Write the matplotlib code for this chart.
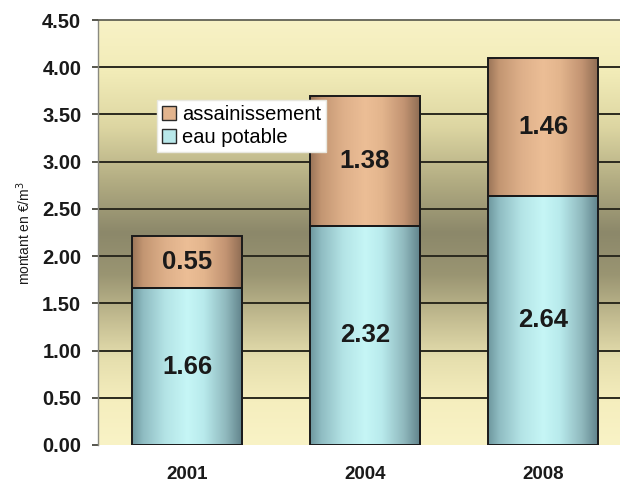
import numpy as np
import matplotlib
matplotlib.use("Agg")
import matplotlib.pyplot as plt
from matplotlib.colors import LinearSegmentedColormap
from matplotlib.patches import Patch

plt.rcParams['font.family'] = ['Liberation Sans', 'DejaVu Sans']

# Data
years = ["2001", "2004", "2008"]
eau_potable = [1.66, 2.32, 2.64]
assainissement = [0.55, 1.38, 1.46]
yticks = [0.0, 0.5, 1.0, 1.5, 2.0, 2.5, 3.0, 3.5, 4.0, 4.5]

W, H = 620, 482
fig = plt.figure(figsize=(W / 100, H / 100), dpi=100)
fig.patch.set_facecolor("white")
ax = fig.add_axes([98 / W, (H - 445) / H, 534 / W, 425 / H])

x = np.arange(len(years))
bw = 0.618

# Background: pale yellow at top and bottom, olive band in the middle
bg_cmap = LinearSegmentedColormap.from_list("bg", [
    (0.00, "#f8f2c6"),
    (0.12, "#f2ecb8"),
    (0.25, "#ddd6a2"),
    (0.38, "#b2ac82"),
    (0.50, "#8c886a"),
    (0.60, "#9a9572"),
    (0.70, "#c2bb90"),
    (0.80, "#e6dfae"),
    (0.90, "#f5eebe"),
    (1.00, "#f9f3c6"),
])
bg = np.linspace(0, 1, 256).reshape(-1, 1)
ax.imshow(bg, cmap=bg_cmap, aspect="auto", extent=[-0.5, 2.57, 0, 4.5],
          origin="upper", zorder=0, interpolation="bicubic")

# Gridlines
for yv in yticks[1:-1]:
    ax.axhline(yv, color="#2b2a1e", lw=1.4, zorder=1)

# Cylinder-like horizontal shading for the bars
cyan_cmap = LinearSegmentedColormap.from_list("cyan", [
    (0.00, "#6e979e"), (0.10, "#8fbcc2"), (0.30, "#b4e4e6"),
    (0.50, "#c6f6f6"), (0.65, "#b8eaec"), (0.85, "#8fb8bd"),
    (1.00, "#5f8189"),
])
orange_cmap = LinearSegmentedColormap.from_list("orange", [
    (0.00, "#9a7558"), (0.10, "#c39672"), (0.30, "#deb08a"),
    (0.50, "#ecbe96"), (0.65, "#e3b58d"), (0.85, "#c29372"),
    (1.00, "#8c6b52"),
])
hgrad = np.linspace(0, 1, 256).reshape(1, -1)

b1 = ax.bar(x, eau_potable, bw, facecolor="none", edgecolor="#1a1a1a",
            lw=1.4, zorder=3)
b2 = ax.bar(x, assainissement, bw, bottom=eau_potable, facecolor="none",
            edgecolor="#1a1a1a", lw=1.4, zorder=3)

for cont, cmap in ((b1, cyan_cmap), (b2, orange_cmap)):
    for p in cont:
        x0, y0, w, h = p.get_x(), p.get_y(), p.get_width(), p.get_height()
        ax.imshow(hgrad, cmap=cmap, aspect="auto",
                  extent=[x0, x0 + w, y0, y0 + h], zorder=2,
                  interpolation="bicubic")

# Value labels centred in each segment
for cont, vals in ((b1, eau_potable), (b2, assainissement)):
    for p, v in zip(cont, vals):
        ax.text(p.get_x() + p.get_width() / 2, p.get_y() + p.get_height() / 2,
                f"{v:.2f}", ha="center", va="center", fontsize=18.5,
                fontweight="bold", color="#1a1a1a", zorder=4)

ax.set_xlim(-0.5, 2.5)
ax.set_ylim(0, 4.5)

ax.set_yticks(yticks)
ax.set_yticklabels([f"{v:.2f}" for v in yticks], fontsize=14.5,
                   fontweight="bold", color="#1a1a1a")
ax.tick_params(axis="y", length=4.5, width=1.2, color="#3a3a30", pad=7.5)
ax.set_xticks(x)
ax.set_xticklabels(years, fontsize=13.5, fontweight="bold", color="#1a1a1a")
ax.tick_params(axis="x", length=0, pad=15)

for s in ("right", "bottom"):
    ax.spines[s].set_visible(False)
ax.spines["left"].set_color("#8a8a80")
ax.spines["left"].set_linewidth(1.0)
ax.spines["top"].set_color("#55554a")
ax.spines["top"].set_linewidth(1.2)

fig.text(24 / W, 1 - 233 / H, "montant en €/m$^3$", rotation=90,
         ha="center", va="center", fontsize=10, color="#1a1a1a")

handles = [Patch(facecolor="#e2b48e", edgecolor="#2a2a2a", lw=1.0),
           Patch(facecolor="#b8e8ea", edgecolor="#2a2a2a", lw=1.0)]
leg = ax.legend(handles, ["assainissement", "eau potable"],
                loc="upper left", bbox_to_anchor=(0.110, 0.812),
                fontsize=14.5, frameon=True, fancybox=False, framealpha=1,
                borderpad=0.25, labelspacing=0.2, handlelength=0.7,
                handleheight=0.7, handletextpad=0.3, borderaxespad=0)
leg.get_frame().set_facecolor("white")
leg.get_frame().set_edgecolor("#e8e8e0")
leg.set_zorder(5)

fig.savefig("out.png", dpi=100, facecolor="white")
